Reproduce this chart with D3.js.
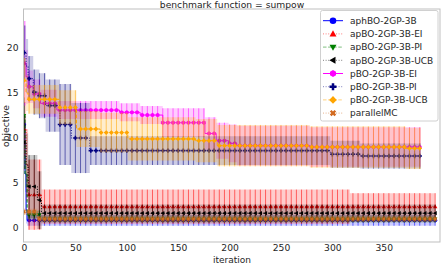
<!DOCTYPE html>
<html><head><meta charset="utf-8">
<script src="https://cdn.jsdelivr.net/npm/d3@7"></script>
<style>body{margin:0;background:#fff}svg{display:block}text{font-family:"DejaVu Sans",sans-serif}</style>
</head><body><svg id="c" width="441" height="263"></svg>
<script>
// ---- data (step change-points: iteration, mean, std) ----
const seriesNames = ["aphBO-2GP-3B","apBO-2GP-3B-EI","apBO-2GP-3B-PI","apBO-2GP-3B-UCB","pBO-2GP-3B-EI","pBO-2GP-3B-PI","pBO-2GP-3B-UCB","parallelMC"];
const xTicks = [0,50,100,150,200,250,300,350];
const yTicks = [0,5,10,15,20];

const aphX = [0,1,2,3];            const aphMean = [11.5,6,2,0.85];        const aphStd = [2.5,2,1.5,0.6];
const eiX  = [0,2,4,17,317];       const eiMean  = [11,7,3.7,2.37,2.37];   const eiStd  = [3,4,3.9,1.9,1.5];
const piX  = [0,1,3,16];           const piMean  = [12.5,6,1.45,1.0];      const piStd  = [2,1.5,0.5,0.4];
const ucbX = [0,2,4,13,17];        const ucbMean = [9.5,7,4.6,3.1,1.65];   const ucbStd = [3,3.5,3.5,3.2,0.95];
const pEiX = [0,2,4,9,16,32,93,113,135,176,187,199,207,278];
const pEiMean = [18.3,16.8,15.7,14.9,13.85,13.1,12.85,12.55,11.7,10.5,9.7,9.4,9.15,9.0];
const pEiStd  = [4.7,3,1.8,1.6,1.5,1.0,1.0,1.0,1.6,1.8,2.0,2.1,2.2,2.2];
const pPiX = [0,2,4,9,15,21,35,46,64,298,327];
const pPiMean = [19.5,18,16.6,15.1,14.7,13.6,11.5,10.0,8.6,8.2,8.0];
const pPiStd  = [3,3,2.5,2.5,2.5,2.9,4.5,3.9,1.6,1.5,1.4];
const pUcbX = [0,2,4,34,51,74,101,167,188,278,371];
const pUcbMean = [16.4,15,14.3,13.4,11.0,10.6,9.9,9.7,9.15,9.0,8.85];
const pUcbStd  = [2.5,2,1.6,1.9,2.0,2.2,2.4,2.4,2.3,2.3,2.3];
const mcX = [0,13];                const mcMean = [1.8,1.0];               const mcStd = [0.35,0.35];
const lastIter = [400,400,400,400,386,386,386,400];
const markEvery = 5;

const colors = ["#0000ff","#ff0000","#008000","#000000","#ff00ff","#000080","#ffa500","#d2691e"];
const dashes = [null,"1,1.6","3.5,1.6","1,1.6",null,"1,1.6","3.5,1.6","1,1.6"];
const shapes = ["circle","tri","tridown","trileft","hex","plus","diamond","x"];

const series = [
 [aphX,aphMean,aphStd],[eiX,eiMean,eiStd],[piX,piMean,piStd],[ucbX,ucbMean,ucbStd],
 [pEiX,pEiMean,pEiStd],[pPiX,pPiMean,pPiStd],[pUcbX,pUcbMean,pUcbStd],[mcX,mcMean,mcStd]
].map((s,i)=>({name:seriesNames[i],xs:s[0],m:s[1],sd:s[2],end:lastIter[i],color:colors[i],dash:dashes[i],shape:shapes[i]}));

// ---- layout ----
const svg = d3.select("#c");
const L=23.5, R=440, T=9, B=242;
const x = d3.scaleLinear().domain([0,405]).range([24,R+0.3]);
const y = d3.scaleLinear().domain([-1.556,24.333]).range([B,T]);

svg.append("defs").append("clipPath").attr("id","clip").append("rect").attr("x",L).attr("y",T).attr("width",R-L).attr("height",B-T);

function symbolPath(shape,size){
  const r=size;
  switch(shape){
    case "circle": return d3.symbol(d3.symbolCircle, Math.PI*r*r)();
    case "tri": return `M0,${-r*1.1}L${r*1.05},${r*0.75}L${-r*1.05},${r*0.75}Z`;
    case "tridown": return `M0,${r*1.1}L${r*1.05},${-r*0.75}L${-r*1.05},${-r*0.75}Z`;
    case "trileft": return `M${-r*1.1},0L${r*0.75},${-r*1.05}L${r*0.75},${r*1.05}Z`;
    case "hex": { let p=[]; for(let k=0;k<6;k++){const a=Math.PI/3*k+Math.PI/6; p.push([r*1.05*Math.cos(a), r*1.05*Math.sin(a)]);} return "M"+p.map(q=>q.join(",")).join("L")+"Z"; }
    case "plus": { const a=r*1.05,b=r*0.38; return `M${-b},${-a}H${b}V${-b}H${a}V${b}H${b}V${a}H${-b}V${b}H${-a}V${-b}H${-b}Z`; }
    case "diamond": { const a=r*1.15; return `M0,${-a}L${a},0L0,${a}L${-a},0Z`; }
    case "x": { const a=r*1.0,b=r*0.36; const pts=[[-b,-a],[b,-a],[b,-b],[a,-b],[a,b],[b,b],[b,a],[-b,a],[-b,b],[-a,b],[-a,-b],[-b,-b]];
      const c=Math.SQRT1_2; return "M"+pts.map(([px,py])=>[(px-py)*c,(px+py)*c].join(",")).join("L")+"Z"; }
  }
}

function stepPoints(s){
  const pts = s.xs.map((v,i)=>({t:v,m:s.m[i],sd:s.sd[i]}));
  const l = pts[pts.length-1];
  pts.push({t:s.end,m:l.m,sd:l.sd});
  return pts;
}
function valueAt(s,t){
  let k=0; for(let i=0;i<s.xs.length;i++){ if(s.xs[i]<=t) k=i; }
  return {m:s.m[k],sd:s.sd[k]};
}

const plot = svg.append("g").attr("clip-path","url(#clip)");

series.forEach(s=>{
  const pts = stepPoints(s);
  const g = plot.append("g");
  g.append("path").datum(pts)
    .attr("d", d3.area().x(d=>x(d.t)).y0(d=>y(d.m-d.sd)).y1(d=>y(d.m+d.sd)).curve(d3.curveStepAfter))
    .attr("fill",s.color).attr("fill-opacity",0.2).attr("stroke","none");
  const marks = d3.range(0, s.end+1, markEvery).map(t=>({t, ...valueAt(s,t)}));
  g.selectAll("line.eb").data(marks).join("line")
    .attr("x1",d=>x(d.t)).attr("x2",d=>x(d.t))
    .attr("y1",d=>y(d.m-d.sd)).attr("y2",d=>y(d.m+d.sd))
    .attr("stroke",s.color).attr("stroke-opacity",0.55).attr("stroke-width",1);
  g.append("path").datum(pts)
    .attr("d", d3.line().x(d=>x(d.t)).y(d=>y(d.m)).curve(d3.curveStepAfter))
    .attr("fill","none").attr("stroke",s.color).attr("stroke-width",1)
    .attr("stroke-dasharray",s.dash);
  g.selectAll("path.mk").data(marks).join("path")
    .attr("d",symbolPath(s.shape,2.1))
    .attr("transform",d=>`translate(${x(d.t)},${y(d.m)})`)
    .attr("fill",s.color);
});

// frame
svg.append("rect").attr("x",L).attr("y",T).attr("width",R-L).attr("height",B-T)
  .attr("fill","none").attr("stroke","#bfbfbf").attr("stroke-width",1);

// axes
const xa = svg.append("g").attr("transform",`translate(0,${B})`)
  .call(d3.axisBottom(x).tickValues(xTicks).tickSize(0).tickPadding(2.5));
const ya = svg.append("g").attr("transform",`translate(${L},0)`)
  .call(d3.axisLeft(y).tickValues(yTicks).tickSize(0).tickPadding(5));
[xa,ya].forEach(a=>{a.select(".domain").remove(); a.selectAll("text").attr("font-size",9.2).attr("fill","#262626").attr("font-family","DejaVu Sans");});

svg.append("text").attr("x",232).attr("y",262.5).attr("text-anchor","middle").attr("font-size",9).attr("fill","#262626").text("iteration");
svg.append("text").attr("transform","translate(9,126) rotate(-90)").attr("text-anchor","middle").attr("font-size",9.2).attr("fill","#262626").text("objective");
svg.append("text").attr("x",232).attr("y",7.5).attr("text-anchor","middle").attr("font-size",9.2).attr("fill","#262626").text("benchmark function = sumpow");

// legend
const lg = svg.append("g");
lg.append("rect").attr("x",320.5).attr("y",10.5).attr("width",117.5).attr("height",110.5).attr("rx",2)
  .attr("fill","#fff").attr("fill-opacity",0.85).attr("stroke","#d0d0d0");
series.forEach((s,i)=>{
  const yy = 20.7 + i*13.2;
  lg.append("line").attr("x1",323).attr("x2",343).attr("y1",yy).attr("y2",yy)
    .attr("stroke",s.color).attr("stroke-width",1).attr("stroke-dasharray",s.dash)
    .attr("stroke-opacity", s.dash? 0.5:1);
  lg.append("path").attr("d",symbolPath(s.shape,3.3)).attr("transform",`translate(333,${yy})`).attr("fill",s.color);
  lg.append("text").attr("x",350).attr("y",yy+3.3).attr("font-size",9).attr("fill","#262626").text(s.name);
});
</script></body></html>
